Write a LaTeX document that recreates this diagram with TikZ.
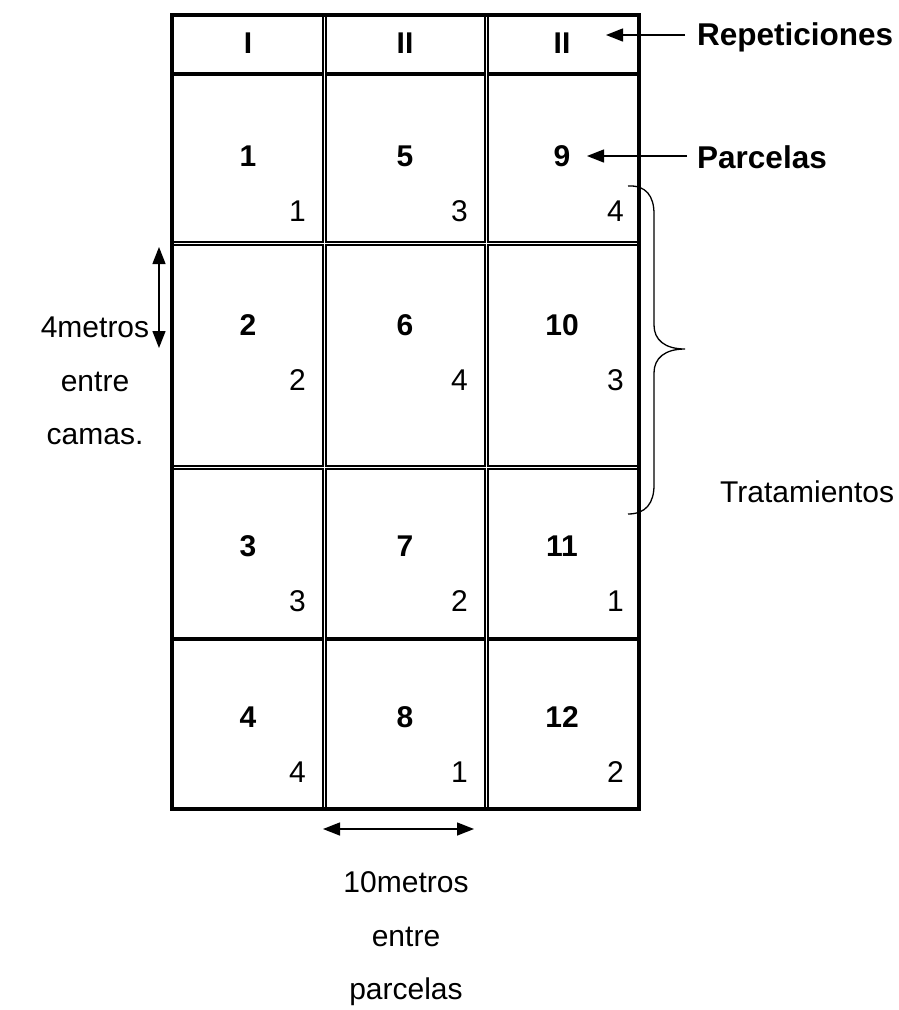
\documentclass[tikz,border=0pt]{standalone}
\usepackage{fontspec}
\setmainfont{Liberation Sans}
\usetikzlibrary{arrows.meta}
\begin{document}
\begin{tikzpicture}[x=1pt,y=-1pt,
  txt/.style={font=\fontsize{30}{36}\selectfont, inner sep=0pt},
  btxt/.style={font=\fontsize{30}{36}\selectfont\bfseries, inner sep=0pt},
  blab/.style={font=\fontsize{31.5}{38}\selectfont\bfseries, inner sep=0pt, anchor=west},
  sm/.style={txt, anchor=east},
  border/.style={line width=4pt},
  dblk/.style={line width=4.4pt},
  dwht/.style={white, line width=1.6pt},
  tip/.tip={Triangle[length=17pt,width=13pt]},
  arr/.style={line width=1.4pt, -tip},
  darr/.style={line width=1.4pt, tip-tip},
  brace/.style={line width=1.3pt},
]
\useasboundingbox (0,0) rectangle (898,1010);
% grid
\draw[dblk] (324.5,14.5) -- (324.5,808.5);
\draw[dblk] (486.5,14.5) -- (486.5,808.5);
\draw[dblk] (172,243.5) -- (638.5,243.5);
\draw[dblk] (172,467.5) -- (638.5,467.5);
\draw[border] (172,74) -- (638.5,74);
\draw[border] (172,639) -- (638.5,639);
\draw[dwht] (324.5,16.5) -- (324.5,806.5);
\draw[dwht] (486.5,16.5) -- (486.5,806.5);
\draw[dwht] (174,243.5) -- (636.5,243.5);
\draw[dwht] (174,467.5) -- (636.5,467.5);
\draw[border] (172,14.5) rectangle (638.5,808.5);
% header
\node[btxt] (h1) at (248,43) {I};
\node[btxt] (h2) at (405,43) {II};
\node[btxt] (h3) at (562,43) {II};
% plots
\node[btxt] (p1) at (248,156) {1};
\node[btxt] (p5) at (405,156) {5};
\node[btxt] (p9) at (562,156) {9};
\node[sm] (t1) at (306,211) {1};
\node[sm] (t5) at (468,211) {3};
\node[sm] (t9) at (624,211) {4};
\node[btxt] (p2) at (248,325) {2};
\node[btxt] (p6) at (405,325) {6};
\node[btxt] (p10) at (562,325) {10};
\node[sm] (t2) at (306,380) {2};
\node[sm] (t6) at (468,380) {4};
\node[sm] (t10) at (624,380) {3};
\node[btxt] (p3) at (248,546) {3};
\node[btxt] (p7) at (405,546) {7};
\node[btxt] (p11) at (562,546) {11};
\node[sm] (t3) at (306,601) {3};
\node[sm] (t7) at (468,601) {2};
\node[sm] (t11) at (624,601) {1};
\node[btxt] (p4) at (248,717) {4};
\node[btxt] (p8) at (405,717) {8};
\node[btxt] (p12) at (562,717) {12};
\node[sm] (t4) at (306,772) {4};
\node[sm] (t8) at (468,772) {1};
\node[sm] (t12) at (624,772) {2};
% labels
\node[blab] (rep) at (697,37) {Repeticiones};
\node[blab] (par) at (697,157) {Parcelas};
\node[txt, anchor=west] (tra) at (720,492) {Tratamientos};
\node[txt] (l1) at (95,327) {4metros};
\node[txt] (l2) at (95,382) {entre};
\node[txt] (l3) at (95,437) {camas.};
\node[txt] (b1) at (406,882) {10metros};
\node[txt] (b2) at (406,937) {entre};
\node[txt] (b3) at (406,992) {parcelas};
% arrows
\coordinate (repS) at (685,35);
\coordinate (repE) at (606,35);
\coordinate (parS) at (687,156);
\coordinate (parE) at (587,156);
\coordinate (vA) at (159,247);
\coordinate (vB) at (159,348);
\coordinate (hA) at (323,829);
\coordinate (hB) at (474,829);
\draw[arr] (repS) -- (repE);
\draw[arr] (parS) -- (parE);
\draw[darr] (vA) -- (vB);
\draw[darr] (hA) -- (hB);
% brace
\draw[brace] (628,186) .. controls (646,185) and (654,196) .. (654,214)
  -- (654,325) .. controls (654,340) and (665,349) .. (685,349)
  .. controls (665,349) and (654,358) .. (654,373)
  -- (654,485) .. controls (654,503) and (646,514) .. (628,514);
\end{tikzpicture}
\end{document}
